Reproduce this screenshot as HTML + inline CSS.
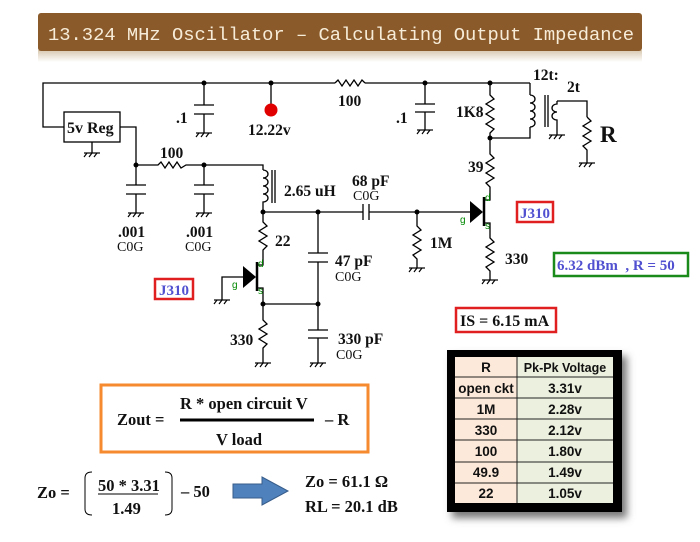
<!DOCTYPE html>
<html><head><meta charset="utf-8"><style>
html,body{margin:0;padding:0;background:#fff;width:700px;height:542px;overflow:hidden}
svg{display:block}
.s{font-family:"Liberation Serif",serif;font-weight:bold;fill:#111}
.g{font-family:"Liberation Sans",sans-serif;font-size:10px;fill:#080}
.t{font-family:"Liberation Sans",sans-serif;font-weight:bold;font-size:13.5px;fill:#111;text-anchor:middle}
</style></head><body>
<svg width="700" height="542" viewBox="0 0 700 542" xmlns="http://www.w3.org/2000/svg">
<defs>
<linearGradient id="sh" x1="0" y1="0" x2="0" y2="1"><stop offset="0" stop-color="#d8c8b0"/><stop offset="1" stop-color="#fff"/></linearGradient>
<filter id="ds" x="-20%" y="-20%" width="150%" height="150%"><feGaussianBlur stdDeviation="4"/></filter>
<g id="gnd" stroke="#000" stroke-width="1.2" fill="none"><line x1="-8" y1="0" x2="8" y2="0"/><line x1="-5" y1="0" x2="-8" y2="4"/><line x1="0" y1="0" x2="-3" y2="4"/><line x1="5" y1="0" x2="2" y2="4"/></g>
</defs>
<!-- title -->
<rect x="38" y="50" width="604" height="12" fill="url(#sh)"/>
<rect x="38" y="13" width="604" height="38" rx="3" fill="#8a5a2b"/>
<text x="48" y="40" font-family="Liberation Mono,monospace" font-size="18.8" fill="#f7ecd8">13.324 MHz Oscillator – Calculating Output Impedance</text>

<g stroke="#000" stroke-width="1.3" fill="none">
<polyline points="64,127 43,127 43,83 335,83"/>
<polyline points="335,83 338,80 342,86 346,80 350,86 354,80 358,86 362,80 365,83"/>
<line x1="365" y1="83" x2="530" y2="83"/>
<rect x="64" y="112" width="56" height="30"/>
<line x1="92" y1="142" x2="92" y2="153"/>
<line x1="204" y1="83" x2="204" y2="105"/><line x1="194" y1="105" x2="214" y2="105"/><line x1="194" y1="114" x2="214" y2="114"/><line x1="204" y1="114" x2="204" y2="133"/>
<line x1="271" y1="83" x2="271" y2="104"/>
<line x1="425" y1="83" x2="425" y2="104"/><line x1="415" y1="104" x2="435" y2="104"/><line x1="415" y1="112" x2="435" y2="112"/><line x1="425" y1="112" x2="425" y2="130"/>
<polyline points="490,83 490,95 494,99 486,104 494,109 486,114 494,119 486,124 494,129 490,133 490,150"/>
<polyline points="530,83 530,95"/>
<path d="M530,95 a5,4 0 0 1 0,8 a5,4 0 0 1 0,8 a5,4 0 0 1 0,8 a5,4 0 0 1 0,8"/>
<polyline points="530,127 530,138 490,138"/>
<line x1="545" y1="95" x2="545" y2="127"/><line x1="548" y1="95" x2="548" y2="127"/>
<polyline points="557,101 587,101 587,117"/>
<path d="M557,101 L557,104 a5,4 0 0 0 0,8 a5,4 0 0 0 0,8 L557,135"/>
<polyline points="587,117 591,121 583,126 591,131 583,136 591,141 583,146 587,150 587,163"/>
<polyline points="490,150 490,154 494,158 486,163 494,168 486,173 494,178 486,183 490,187 490,200 484,200"/>
<line x1="484" y1="197" x2="484" y2="226" stroke-width="2.5"/>
<polyline points="484,223 490,223 490,238 494,242 486,247 494,252 486,257 494,262 486,267 490,271 490,280"/>
<line x1="263" y1="212" x2="363" y2="212"/><line x1="369" y1="212" x2="472" y2="212"/>
<line x1="363" y1="204" x2="363" y2="220"/><line x1="369" y1="204" x2="369" y2="220"/>
<polyline points="417,212 417,226 421,230 413,235 421,240 413,245 421,250 413,255 417,259 417,268"/>
<polyline points="120,127 136,127 136,165 158,165 161,162 165,168 169,162 173,168 177,162 181,168 186,165 263,165 263,170"/>
<path d="M263,170 a5,4 0 0 1 0,8 a5,4 0 0 1 0,8 a5,4 0 0 1 0,8 a5,4 0 0 1 0,8 L263,212"/>
<line x1="272" y1="170" x2="272" y2="203"/><line x1="275" y1="170" x2="275" y2="203"/>
<line x1="136" y1="165" x2="136" y2="185"/><line x1="126" y1="185" x2="146" y2="185"/><line x1="126" y1="194" x2="146" y2="194"/><line x1="136" y1="194" x2="136" y2="213"/>
<line x1="204" y1="165" x2="204" y2="185"/><line x1="194" y1="185" x2="214" y2="185"/><line x1="194" y1="194" x2="214" y2="194"/><line x1="204" y1="194" x2="204" y2="213"/>
<polyline points="263,212 263,222 267,226 259,231 267,236 259,241 267,246 263,250 263,265 257,265"/>
<line x1="257" y1="262" x2="257" y2="291" stroke-width="2.5"/>
<polyline points="257,288 263,288 263,304 318,304"/>
<polyline points="243,277 222,277 222,300"/>
<polyline points="263,304 263,320 267,324 259,329 267,334 259,339 267,344 263,348 263,363"/>
<line x1="318" y1="212" x2="318" y2="253"/><line x1="308" y1="253" x2="328" y2="253"/><line x1="308" y1="262" x2="328" y2="262"/><line x1="318" y1="262" x2="318" y2="330"/>
<line x1="308" y1="330" x2="328" y2="330"/><line x1="308" y1="338" x2="328" y2="338"/><line x1="318" y1="338" x2="318" y2="363"/>
</g>
<use href="#gnd" x="92" y="153"/><use href="#gnd" x="204" y="133"/><use href="#gnd" x="425" y="130"/>
<use href="#gnd" x="557" y="135"/><use href="#gnd" x="587" y="163"/><use href="#gnd" x="490" y="280"/>
<use href="#gnd" x="417" y="268"/><use href="#gnd" x="136" y="213"/><use href="#gnd" x="204" y="213"/>
<use href="#gnd" x="222" y="300"/><use href="#gnd" x="263" y="363"/><use href="#gnd" x="318" y="363"/>
<g fill="#000">
<circle cx="204" cy="83" r="2.5"/><circle cx="271" cy="83" r="2.5"/><circle cx="425" cy="83" r="2.5"/><circle cx="490" cy="83" r="2.5"/><circle cx="490" cy="138" r="2.5"/>
<circle cx="136" cy="165" r="2.5"/><circle cx="204" cy="165" r="2.5"/><circle cx="263" cy="212" r="2.5"/><circle cx="318" cy="212" r="2.5"/><circle cx="417" cy="212" r="2.5"/>
<circle cx="263" cy="304" r="2.5"/><circle cx="318" cy="304" r="2.5"/>
<polygon points="470,201 483,212 470,223"/>
<polygon points="243,266 256,277 243,288"/>
</g>
<circle cx="271" cy="110" r="6.5" fill="#e00000"/>
<g class="s" font-size="15.5">
<text x="67" y="133" font-size="16">5v Reg</text>
<text x="176" y="123">.1</text><text x="248" y="135">12.22v</text>
<text x="338" y="106">100</text><text x="396" y="123">.1</text><text x="456" y="117">1K8</text>
<text x="533" y="80">12t:</text><text x="567" y="92">2t</text>
<text x="600" y="142" font-size="23">R</text>
<text x="468" y="172">39</text><text x="505" y="264">330</text><text x="430" y="248">1M</text>
<text x="352" y="186">68 pF</text><text x="353" y="200" font-weight="normal" font-size="14">C0G</text>
<text x="160" y="158">100</text><text x="284" y="196">2.65 uH</text>
<text x="118" y="237">.001</text><text x="117" y="251" font-weight="normal" font-size="14">C0G</text>
<text x="186" y="237">.001</text><text x="185" y="251" font-weight="normal" font-size="14">C0G</text>
<text x="275" y="246">22</text>
<text x="335" y="266">47 pF</text><text x="335" y="281" font-weight="normal" font-size="14">C0G</text>
<text x="338" y="344">330 pF</text><text x="336" y="359" font-weight="normal" font-size="14">C0G</text>
<text x="230" y="345">330</text>
</g>
<g class="g"><text x="485" y="201">d</text><text x="460" y="223">g</text><text x="485" y="229">s</text>
<text x="258" y="267">d</text><text x="232" y="288">g</text><text x="258" y="294">s</text></g>
<rect x="517" y="202" width="36" height="20" fill="none" stroke="#e02020" stroke-width="2.5"/>
<text x="520" y="218" class="s" font-size="15" style="fill:#5050d0">J310</text>
<rect x="155" y="279" width="38" height="20" fill="none" stroke="#e02020" stroke-width="2.5"/>
<text x="159" y="295" class="s" font-size="15" style="fill:#5050d0">J310</text>
<rect x="554" y="253" width="134" height="23" fill="none" stroke="#1a8a1a" stroke-width="2.5"/>
<text x="557" y="270" class="s" font-size="15" style="fill:#5050d0" xml:space="preserve">6.32 dBm  , R = 50</text>
<rect x="456" y="308" width="100" height="24" fill="none" stroke="#e02020" stroke-width="2.5"/>
<text x="460" y="326" class="s" font-size="16">IS = 6.15 mA</text>
<rect x="101" y="385" width="267" height="67" fill="none" stroke="#f58a2e" stroke-width="3"/>
<g class="s" font-size="16.5">
<text x="117" y="425">Zout =</text>
<text x="180" y="409">R * open circuit V</text>
<text x="216" y="445">V load</text>
<text x="325" y="425">–  R</text>
<text x="37" y="498">Zo =</text>
<text x="98" y="491">50 * 3.31</text>
<text x="112" y="514">1.49</text>
<text x="181" y="497">– 50</text>
<text x="305" y="487">Zo = 61.1 Ω</text>
<text x="305" y="512">RL = 20.1 dB</text>
</g>
<line x1="180" y1="420" x2="314" y2="420" stroke="#000" stroke-width="3"/>
<line x1="98" y1="494" x2="158" y2="494" stroke="#000" stroke-width="1"/>
<path d="M92,472 Q85,472 85,478 L85,509 Q85,515 92,515 M165,472 Q172,472 172,478 L172,509 Q172,515 165,515" fill="none" stroke="#000" stroke-width="1"/>
<polygon points="233,484 262,484 262,477 288,491 262,505 262,498 233,498" fill="#4f81bd" stroke="#385d8a" stroke-width="1"/>
<rect x="452" y="356" width="175" height="162" fill="#777" filter="url(#ds)"/>
<rect x="447" y="350" width="175" height="162" fill="#000"/>
<rect x="455" y="357" width="62" height="146" fill="#fde9d9"/>
<rect x="517" y="357" width="96" height="146" fill="#ebf1de"/>
<g stroke="#222" stroke-width="1">
<line x1="517" y1="357" x2="517" y2="503"/>
<line x1="455" y1="377" x2="613" y2="377"/><line x1="455" y1="398" x2="613" y2="398"/><line x1="455" y1="419" x2="613" y2="419"/>
<line x1="455" y1="440" x2="613" y2="440"/><line x1="455" y1="462" x2="613" y2="462"/><line x1="455" y1="483" x2="613" y2="483"/>
</g>
<g class="t">
<text x="486" y="372">R</text><text x="565" y="372" font-size="12.5">Pk-Pk Voltage</text>
<text x="486" y="393">open ckt</text><text x="565" y="393">3.31v</text>
<text x="486" y="414">1M</text><text x="565" y="414">2.28v</text>
<text x="486" y="435">330</text><text x="565" y="435">2.12v</text>
<text x="486" y="456">100</text><text x="565" y="456">1.80v</text>
<text x="486" y="477">49.9</text><text x="565" y="477">1.49v</text>
<text x="486" y="498">22</text><text x="565" y="498">1.05v</text>
</g>
</svg>
</body></html>
